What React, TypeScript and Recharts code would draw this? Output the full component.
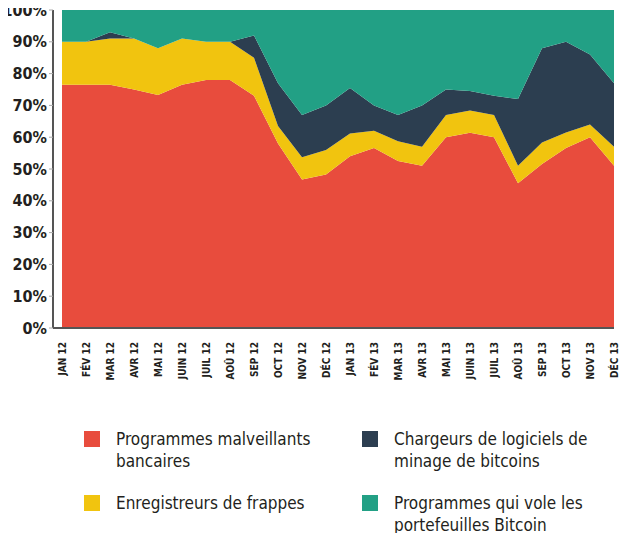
import React from 'react';
import { AreaChart, Area, XAxis, YAxis } from 'recharts';

const months = ['JAN 12','FÉV 12','MAR 12','AVR 12','MAI 12','JUIN 12','JUIL 12','AOÛ 12','SEP 12','OCT 12','NOV 12','DÉC 12','JAN 13','FÉV 13','MAR 13','AVR 13','MAI 13','JUIN 13','JUIL 13','AOÛ 13','SEP 13','OCT 13','NOV 13','DÉC 13'];
const redTop = [76.5,76.5,76.5,75,73.3,76.5,78,78,73,58,46.7,48.3,54,56.6,52.5,51,60,61.4,60,45.5,51.6,56.6,60,51];
const yellowTop = [90,90,91,91,88,91,90,90,85,63.5,53.7,56,61.2,62,58.7,57,67,68.4,67,51,58.3,61.5,64,57];
const darkTop = [90,90,93,91,88,91,90,90,92,77,67,70,75.5,70,67,70,75,74.5,73,72,88,90,86,77];
const yTicks = [0,10,20,30,40,50,60,70,80,90,100];

const data = months.map((m, i) => ({
  m,
  red: redTop[i],
  yellow: yellowTop[i] - redTop[i],
  dark: darkTop[i] - yellowTop[i],
  teal: 100 - darkTop[i],
}));

const FONT = '"DejaVu Sans Condensed", "Liberation Sans Narrow", sans-serif';
const C = { red: '#e84c3d', yellow: '#f1c40f', dark: '#2c3e50', teal: '#22a085' };

const XTick = (p: any) => (
  <text x={p.x + 4} y={p.y + 6} transform={`rotate(-90 ${p.x + 4} ${p.y + 6})`} textAnchor="end"
    fontSize={10} fontWeight="bold" fill="#231f20" fontFamily={FONT}>{p.payload.value}</text>
);

const legend = [
  { c: C.red, t: ['Programmes malveillants', 'bancaires'], x: 84, y: 428 },
  { c: C.dark, t: ['Chargeurs de logiciels de', 'minage de bitcoins'], x: 362, y: 428 },
  { c: C.yellow, t: ['Enregistreurs de frappes'], x: 84, y: 492 },
  { c: C.teal, t: ['Programmes qui vole les', 'portefeuilles Bitcoin'], x: 362, y: 492 },
];

export default function App() {
  return (
    <div style={{ position: 'relative', width: 627, height: 541, margin: -8, background: '#fff', fontFamily: FONT }}>
      <AreaChart width={627} height={400} data={data} margin={{ top: 10, right: 13, bottom: 0, left: 0 }}>
        <XAxis dataKey="m" tick={<XTick />} interval={0} height={72} axisLine={{ stroke: '#555', strokeWidth: 2 }} tickLine={false} padding={{ left: 9, right: 0 }} />
        <YAxis type="number" domain={[0, 100]} ticks={yTicks} tickFormatter={(v: number) => `${v}%`} width={53}
          tick={{ fontSize: 16, fontWeight: 'bold', fill: '#231f20', fontFamily: FONT }} axisLine={{ stroke: '#555', strokeWidth: 2 }} tickLine={{ stroke: '#aaa' }} tickSize={4} />
        <Area type="linear" dataKey="red" stackId="a" stroke="none" fill={C.red} fillOpacity={1} isAnimationActive={false} />
        <Area type="linear" dataKey="yellow" stackId="a" stroke="none" fill={C.yellow} fillOpacity={1} isAnimationActive={false} />
        <Area type="linear" dataKey="dark" stackId="a" stroke="none" fill={C.dark} fillOpacity={1} isAnimationActive={false} />
        <Area type="linear" dataKey="teal" stackId="a" stroke="none" fill={C.teal} fillOpacity={1} isAnimationActive={false} />
      </AreaChart>
      {legend.map((l, i) => (
        <div key={i} style={{ position: 'absolute', left: l.x, top: l.y, display: 'flex' }}>
          <div style={{ width: 16, height: 16, background: l.c, marginTop: 3, marginRight: 16 }} />
          <div style={{ fontSize: 17, lineHeight: '22px', color: '#231f20' }}>
            {l.t.map((s, j) => <div key={j}>{s}</div>)}
          </div>
        </div>
      ))}
    </div>
  );
}
